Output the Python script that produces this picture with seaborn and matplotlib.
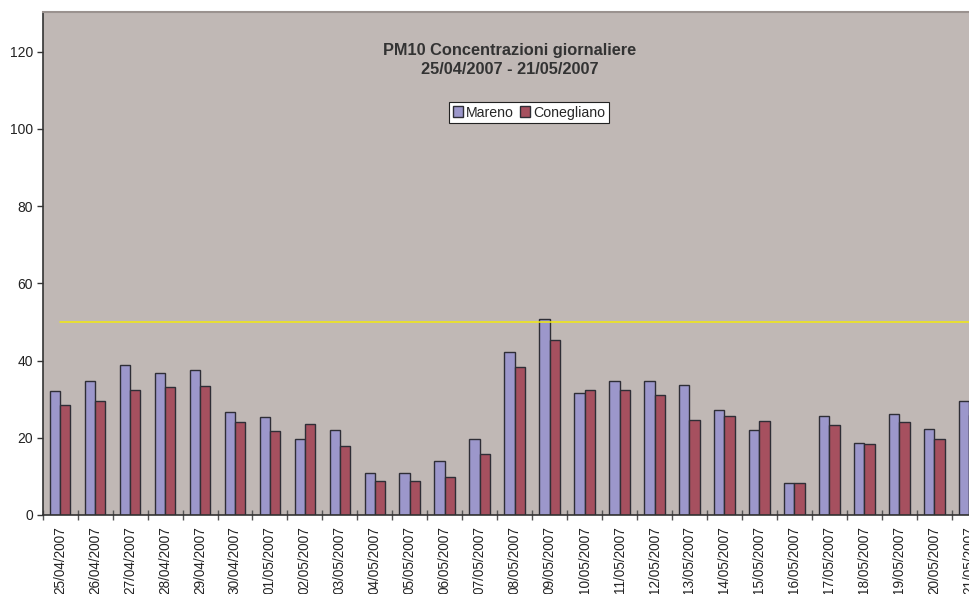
import matplotlib
matplotlib.use("Agg")
import matplotlib.pyplot as plt
from matplotlib.patches import Patch
from matplotlib.ticker import FixedLocator, NullFormatter
import numpy as np
import pandas as pd
import seaborn as sns

# Daily PM10 readings (µg/m3) for the two monitoring stations
dates = ["25/04/2007", "26/04/2007", "27/04/2007", "28/04/2007", "29/04/2007",
         "30/04/2007", "01/05/2007", "02/05/2007", "03/05/2007", "04/05/2007",
         "05/05/2007", "06/05/2007", "07/05/2007", "08/05/2007", "09/05/2007",
         "10/05/2007", "11/05/2007", "12/05/2007", "13/05/2007", "14/05/2007",
         "15/05/2007", "16/05/2007", "17/05/2007", "18/05/2007", "19/05/2007",
         "20/05/2007", "21/05/2007"]
mareno = [32.0, 34.6, 38.9, 36.7, 37.6, 26.8, 25.5, 19.6, 22.0, 11.0,
          10.8, 14.0, 19.8, 42.3, 50.7, 31.5, 34.6, 34.6, 33.6, 27.2,
          22.1, 8.4, 25.7, 18.7, 26.2, 22.2, 29.6]
conegliano = [28.4, 29.5, 32.5, 33.2, 33.3, 24.1, 21.7, 23.7, 18.0, 8.8,
              8.7, 9.9, 15.8, 38.4, 45.3, 32.5, 32.3, 31.2, 24.5, 25.7,
              24.4, 8.2, 23.4, 18.4, 24.1, 19.6, 26.0]
# Daily limit value
limit = [50] * len(dates)

stations = ["Mareno", "Conegliano"]
colors = ["#9C97CB", "#A6505F"]

df = pd.DataFrame({"Data": dates, "Mareno": mareno, "Conegliano": conegliano})
long_df = df.melt(id_vars="Data", value_vars=stations,
                  var_name="Stazione", value_name="PM10")

sns.set_theme(style="white")
plt.rcParams["font.family"] = ["Liberation Sans", "DejaVu Sans"]

fig = plt.figure(figsize=(9.7, 5.94), dpi=100)
fig.patch.set_facecolor("white")
W, H = 970, 594
left_px, right_px, top_px, bottom_px = 42.7, 970, 12, 515
ax = fig.add_axes([left_px / W, 1 - bottom_px / H,
                   (right_px - left_px) / W, (bottom_px - top_px) / H])
ax.set_facecolor("#C0B8B5")

sns.barplot(data=long_df, x="Data", y="PM10", hue="Stazione",
            order=dates, hue_order=stations, palette=colors,
            width=0.59, edgecolor="#2E2E36", linewidth=1.0,
            saturation=1, legend=False, ax=ax)

ax.plot(np.arange(len(dates)), limit, color="#F2EA10", linewidth=1.1, zorder=3)

# category spacing is ~34.96 px; axis is clipped at the right edge
cat_px = (951.7 - left_px) / 26
ax.set_xlim(-0.5, -0.5 + (right_px - left_px) / cat_px)
ax.set_ylim(0, (bottom_px - top_px) / 3.86)

ax.set_yticks([0, 20, 40, 60, 80, 100, 120])
ax.tick_params(axis="y", direction="out", length=4, width=1, color="#333333",
               labelsize=10, labelcolor="#222222", pad=3, left=True)
ax.set_xticks(np.arange(len(dates)))
ax.set_xticklabels(dates, rotation=90, fontsize=9.8, color="#222222")
ax.tick_params(axis="x", which="major", length=0, pad=8)
ax.xaxis.set_minor_locator(FixedLocator(np.arange(-0.5, len(dates), 1.0)))
ax.xaxis.set_minor_formatter(NullFormatter())
ax.tick_params(axis="x", which="minor", direction="inout", length=7,
               width=1, color="#555555", bottom=True)

ax.set_xlabel("")
ax.set_ylabel("")
for side in ["left", "bottom"]:
    ax.spines[side].set_color("#333333")
    ax.spines[side].set_linewidth(1.2)
ax.spines["top"].set_color("#9A928F")
ax.spines["top"].set_linewidth(1.5)
ax.spines["right"].set_visible(False)

fig.text(510 / W, 1 - 60 / H,
         "PM10 Concentrazioni giornaliere\n25/04/2007 - 21/05/2007",
         ha="center", va="center", fontsize=11.8, fontweight="bold",
         color="#333333", linespacing=1.35)

handles = [Patch(facecolor=c, edgecolor="#2E2E36", linewidth=1.0) for c in colors]
leg = ax.legend(handles, stations, loc="center", ncol=2,
                bbox_to_anchor=(528.8 / W, 1 - 112.5 / H),
                bbox_transform=fig.transFigure, frameon=True, fancybox=False,
                edgecolor="#222222", facecolor="white", framealpha=1,
                fontsize=10.2, handlelength=0.75, handleheight=0.75,
                handletextpad=0.2, columnspacing=0.4, borderpad=0.25,
                borderaxespad=0)
leg.get_frame().set_linewidth(0.8)

fig.savefig("out.png", dpi=100, facecolor="white")
